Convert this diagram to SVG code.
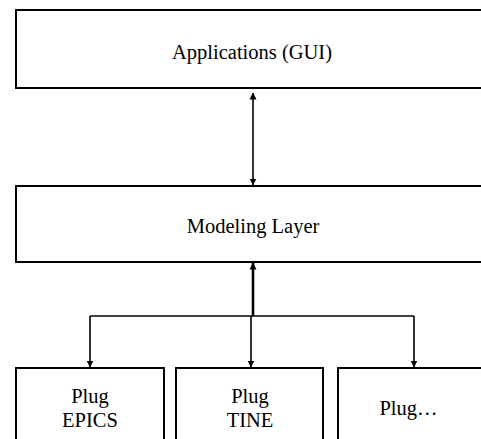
<svg xmlns="http://www.w3.org/2000/svg" width="481" height="439" viewBox="0 0 481 439">
<style>
.box{fill:#fff;stroke:#000;stroke-width:2}
.lbl{font-family:"Liberation Serif","Times New Roman",serif;font-size:20.5px;fill:#000;text-anchor:middle}
.ln{fill:none;stroke:#000;stroke-width:1.6}
.thick{fill:none;stroke:#000;stroke-width:2.6}
</style>
<defs>
<marker id="ah" markerWidth="7" markerHeight="9" refX="6.5" refY="4.5" orient="auto-start-reverse" markerUnits="userSpaceOnUse">
<path d="M0,1 L7,4.5 L0,8 Z" fill="#000"/>
</marker>
</defs>
<rect width="481" height="439" fill="#fff"/>
<g id="connectors">
<line class="ln" x1="253" y1="93" x2="253" y2="185" marker-start="url(#ah)" marker-end="url(#ah)"/>
<line class="thick" x1="253" y1="316" x2="253" y2="263" marker-end="url(#ah)"/>
<polyline class="ln" points="90,316 414,316"/>
<line class="ln" x1="90" y1="316" x2="90" y2="367" marker-end="url(#ah)"/>
<line class="ln" x1="251" y1="316" x2="251" y2="367" marker-end="url(#ah)"/>
<line class="ln" x1="414" y1="316" x2="414" y2="367" marker-end="url(#ah)"/>
</g>
<g id="applications">
<rect class="box" x="16" y="10" width="474" height="78"/>
<text class="lbl" x="252" y="59">Applications (GUI)</text>
</g>
<g id="modeling">
<rect class="box" x="16" y="186" width="474" height="76"/>
<text class="lbl" x="253" y="233">Modeling Layer</text>
</g>
<g id="plug-epics">
<rect class="box" x="16" y="368" width="148" height="80"/>
<text class="lbl" x="90" y="403">Plug</text>
<text class="lbl" x="90" y="427">EPICS</text>
</g>
<g id="plug-tine">
<rect class="box" x="176" y="368" width="147" height="80"/>
<text class="lbl" x="250" y="403">Plug</text>
<text class="lbl" x="250" y="427">TINE</text>
</g>
<g id="plug-more">
<rect class="box" x="338" y="368" width="150" height="80"/>
<text class="lbl" x="408.5" y="415">Plug…</text>
</g>
</svg>
